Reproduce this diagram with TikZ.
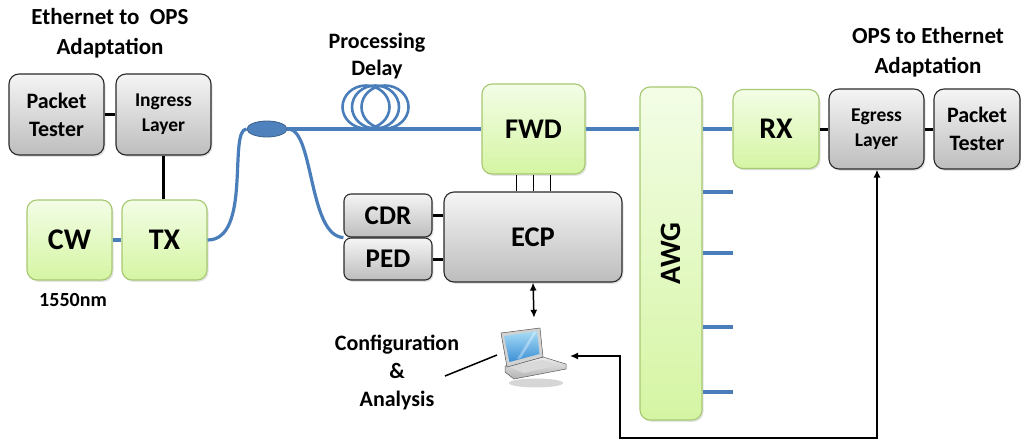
\documentclass[tikz,border=0pt]{standalone}
\usepackage{fontspec}
\setmainfont{Carlito}
\usetikzlibrary{arrows.meta,shadows,calc,shapes.geometric}

\definecolor{greentop}{HTML}{F3FDE6}
\definecolor{greenbot}{HTML}{D5F5A3}
\definecolor{greenedge}{HTML}{A6C870}
\definecolor{graytop}{HTML}{F5F5F5}
\definecolor{graybot}{HTML}{BDBDBD}
\definecolor{grayedge}{HTML}{2A2A2A}
\definecolor{fiberblue}{HTML}{4A7EBB}
\definecolor{couplerblue}{HTML}{4F81BD}
\definecolor{screentop}{HTML}{A8DCF6}
\definecolor{screenbot}{HTML}{3B8FD6}

\tikzset{
  box/.style={rounded corners=10pt, line width=1.1pt, align=center, inner sep=0pt,
    drop shadow={opacity=0.22, shadow xshift=1.5pt, shadow yshift=-1.8pt}},
  greenbox/.style={box, draw=greenedge, top color=greentop, bottom color=greenbot,
    font=\fontsize{30}{32}\selectfont\bfseries},
  graybox/.style={box, draw=grayedge, top color=graytop, bottom color=graybot,
    font=\fontsize{22}{28}\selectfont\bfseries},
  smallgray/.style={graybox, font=\fontsize{19.5}{25}\selectfont\bfseries},
  fiber/.style={draw=fiberblue, line width=3.2pt},
  wire/.style={draw=black, line width=3pt},
  thinwire/.style={draw=black, line width=1pt},
  ctrl/.style={draw=black, line width=1.5pt, {Latex[length=8pt,width=7pt]}-{Latex[length=8pt,width=7pt]}},
  caption/.style={align=center, font=\fontsize{23}{30}\selectfont\bfseries},
}

\begin{document}
\begin{tikzpicture}[x=1pt,y=-1pt]
\useasboundingbox (0,0) rectangle (1021,440);

% captions
\node[caption] (ingcap) at (110,33) {Ethernet to\ \ OPS\\Adaptation};
\node[caption] (egrcap) at (928,52) {OPS to Ethernet\\Adaptation};
\node[caption, font=\fontsize{22}{27}\selectfont\bfseries] (delaycap) at (377,56) {Processing\\Delay};
\node[caption, font=\fontsize{20}{22}\selectfont\bfseries] (lambda) at (73,300) {1550nm};
\node[caption, font=\fontsize{22}{28}\selectfont\bfseries] (config) at (397,372) {Configuration\\\&\\Analysis};

% ingress side
\node[graybox, minimum width=95pt, minimum height=81pt] (pt1) at (56.5,114.5) {Packet\\Tester};
\node[smallgray, minimum width=95pt, minimum height=81pt] (ingress) at (163.5,114.5) {Ingress\\Layer};
\node[greenbox, minimum width=85pt, minimum height=80pt] (cw) at (69.5,240) {CW};
\node[greenbox, minimum width=85pt, minimum height=80pt] (tx) at (164.5,240) {TX};

% switching node
\node[greenbox, font=\fontsize{28.5}{30}\selectfont\bfseries, minimum width=103pt, minimum height=90pt] (fwd) at (533.5,129) {FWD};
\node[graybox, font=\fontsize{28.5}{30}\selectfont\bfseries, minimum width=178pt, minimum height=90pt] (ecp) at (533,237) {ECP};
\node[graybox, rounded corners=7pt, font=\fontsize{27}{28}\selectfont\bfseries, minimum width=88pt, minimum height=43pt] (cdr) at (388,215.5) {CDR};
\node[graybox, rounded corners=7pt, font=\fontsize{27}{28}\selectfont\bfseries, minimum width=88pt, minimum height=42pt] (ped) at (388,259) {PED};
\node[greenbox, minimum width=62pt, minimum height=333pt] (awg) at (671,253.5) {};
\node[font=\fontsize{29.5}{30}\selectfont\bfseries, rotate=90] (awglabel) at (awg) {AWG};

% egress side
\node[greenbox, minimum width=86pt, minimum height=79pt] (rx) at (776,129) {RX};
\node[smallgray, minimum width=95pt, minimum height=80pt] (egress) at (876.5,129) {Egress\\Layer};
\node[graybox, minimum width=86pt, minimum height=80pt] (pt2) at (977,129) {Packet\\Tester};

% coupler
\node[ellipse, draw=couplerblue!75!black, fill=couplerblue, line width=0.8pt,
      minimum width=40pt, minimum height=16pt, inner sep=0pt] (coupler) at (267,129) {};

% fibres
\draw[fiber] (cw) -- (tx);
\draw[fiber] (tx.east) .. controls (252,240) and (228,129) .. (coupler.west);
\draw[fiber] (coupler.east) -- (fwd.west);
\draw[fiber] (coupler.east) .. controls (314,127) and (308,236) .. (cdr.south west);
\draw[fiber] (fwd.east) -- (fwd.east -| awg.west);
\draw[fiber] (rx.west -| awg.east) -- (rx.west);

% delay coil
\foreach \cx in {366,375.5,385}
  \draw[fiberblue, line width=2.6pt] (\cx,107) ellipse [x radius=23.5, y radius=21.5];

% AWG output ports
\coordinate (o1) at (733,192);
\coordinate (o2) at (733,253);
\coordinate (o3) at (733,327);
\coordinate (o4) at (733,392);
\foreach \o in {o1,o2,o3,o4}
  \draw[fiber] (\o -| awg.east) -- (\o);

% electrical links
\draw[wire] (pt1) -- (ingress);
\draw[wire] (ingress.south) -- (ingress.south |- tx.north);
\draw[wire] (cdr.east) -- (cdr.east -| ecp.west);
\draw[wire] (ped.east) -- (ped.east -| ecp.west);
\draw[wire] (rx) -- (egress);
\draw[wire] (egress) -- (pt2);
\foreach \dx in {-17,0,17}
  \draw[thinwire] ([xshift=\dx pt]fwd.south) -- ([xshift=\dx pt]fwd.south |- ecp.north);

% laptop
\node[minimum width=67pt, minimum height=58pt, inner sep=0pt] (laptop) at (534,357) {};
\fill[black, opacity=0.16] (536,383) ellipse [x radius=27, y radius=4.5];
\draw[gray!70!black, line width=0.5pt, top color=gray!15, bottom color=gray!60]
  (505,366) -- (543,357) -- (566,364) -- (566,369) -- (514,379) -- (505,372) -- cycle;
\fill[gray!30] (510,367) -- (542,360) -- (559,365) -- (524,373) -- cycle;
\draw[gray!65!black, line width=0.5pt, fill=gray!35]
  (501,333) -- (540,328) -- (543,357) -- (507,367) -- cycle;
\shade[top color=screentop, bottom color=screenbot]
  (504,336) -- (537,331) -- (539.5,354) -- (509.5,362) -- cycle;
\fill[white, opacity=0.35] (517,359) -- (534,332) -- (536.5,332) -- (521,358) -- cycle;

% control links
\draw[ctrl] (ecp.south) -- ([yshift=10pt]laptop.north);
\coordinate (c1) at (620,356);
\coordinate (c2) at (620,438);
\coordinate (c3) at (877,438);
\draw[ctrl] (570,356) -- (c1) -- (c2) -- (c3) -- (egress.south -| c3);
\coordinate (cfgend) at (445,376);
\draw[black, line width=1.5pt] (cfgend) -- (497,355);
\end{tikzpicture}
\end{document}
